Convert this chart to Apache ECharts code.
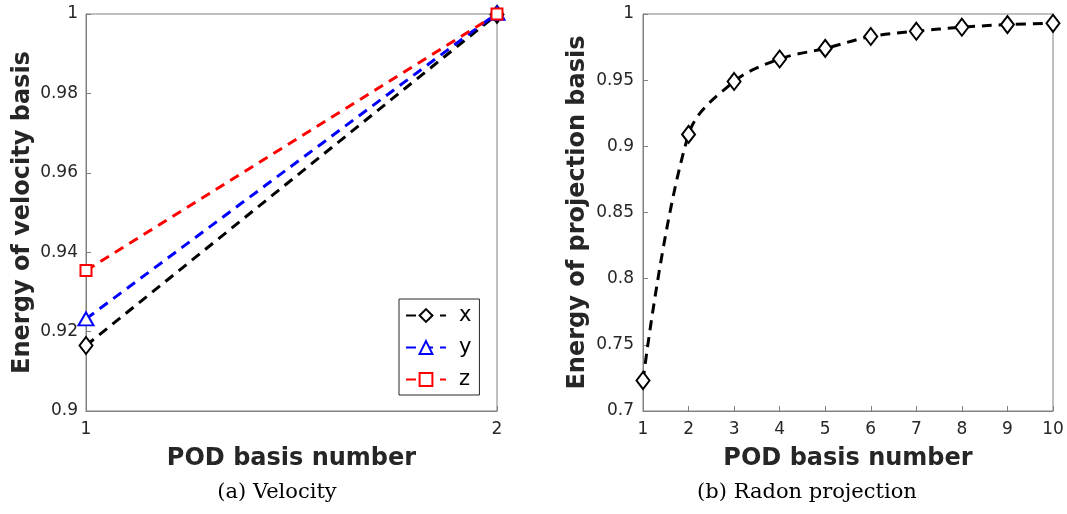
<!DOCTYPE html>
<html><head><meta charset="utf-8">
<script src="https://cdn.jsdelivr.net/npm/echarts@6/dist/echarts.min.js"></script>
<style>html,body{margin:0;padding:0;background:#fff}#c{width:1067px;height:514px}</style>
</head><body><div id="c"></div>
<script>
const velBasis = [1, 2];
const velX = [0.9165, 0.9999];
const velY = [0.9232, 1.0002];
const velZ = [0.9354, 1.0];
const radBasis = [1, 2, 3, 4, 5, 6, 7, 8, 9, 10];
const radEnergy = [0.723, 0.909, 0.949, 0.966, 0.974, 0.983, 0.987, 0.990, 0.992, 0.993];

const chart = echarts.init(document.getElementById('c'));
const axisTxt = {color:'#262626', fontSize:17, fontFamily:'DejaVu Sans'};
const nameTxt = {color:'#262626', fontSize:24, fontWeight:'bold', fontFamily:'DejaVu Sans'};
const fmt = v => String(parseFloat(v.toFixed(3)));
function pairs(xs, ys){ return xs.map((x,i)=>[x, ys[i]]); }
function ser(name, data, color, symbol, size, xi, smooth){
  return {name, type:'line', xAxisIndex:xi, yAxisIndex:xi, data, smooth: smooth||false,
    symbol, symbolSize:size, clip:false, showSymbol:true,
    lineStyle:{color, width:3, type:[10,7]},
    itemStyle:{color, borderColor:color, borderWidth:2.4}, z:3};
}
const tick = {inside:true, length:5, lineStyle:{color:'#808080'}};
const aline = {lineStyle:{color:'#808080'}};
chart.setOption({
  animation:false,
  grid:[
    {left:86, top:14, width:411, height:397, show:true, borderColor:'#808080', borderWidth:1, backgroundColor:'#fff'},
    {left:643, top:14, width:410, height:397, show:true, borderColor:'#808080', borderWidth:1, backgroundColor:'#fff'}
  ],
  xAxis:[
    {gridIndex:0, type:'value', min:1, max:2, interval:1, name:'POD basis number', nameLocation:'middle', nameGap:36, nameTextStyle:nameTxt,
     axisLine:aline, axisTick:tick, axisLabel:Object.assign({margin:10}, axisTxt), splitLine:{show:false}},
    {gridIndex:1, type:'value', min:1, max:10, interval:1, name:'POD basis number', nameLocation:'middle', nameGap:36, nameTextStyle:nameTxt,
     axisLine:aline, axisTick:tick, axisLabel:Object.assign({margin:10}, axisTxt), splitLine:{show:false}}
  ],
  yAxis:[
    {gridIndex:0, type:'value', min:0.9, max:1, interval:0.02, name:'Energy of velocity basis', nameLocation:'middle', nameGap:51, nameTextStyle:nameTxt,
     axisLine:aline, axisTick:tick, axisLabel:Object.assign({margin:8, formatter:fmt}, axisTxt), splitLine:{show:false}},
    {gridIndex:1, type:'value', min:0.7, max:1, interval:0.05, name:'Energy of projection basis', nameLocation:'middle', nameGap:53, nameTextStyle:nameTxt,
     axisLine:aline, axisTick:tick, axisLabel:Object.assign({margin:9, formatter:fmt}, axisTxt), splitLine:{show:false}}
  ],
  legend:{data:['x','y','z'], orient:'vertical', left:399, top:299, padding:[6,8,5,6], itemGap:11,
    itemWidth:40, itemHeight:16, backgroundColor:'#fff', borderColor:'#262626', borderWidth:1, borderRadius:0,
    textStyle:{fontSize:21, color:'#000', fontFamily:'DejaVu Sans', padding:[0,0,0,8]}},
  series:[
    ser('x', pairs(velBasis, velX), '#000000', 'emptyDiamond', [13,17], 0),
    ser('y', pairs(velBasis, velY), '#0000ff', 'emptyTriangle', [15,13], 0),
    ser('z', pairs(velBasis, velZ), '#ff0000', 'emptyRect', [11,11], 0),
    ser('proj', pairs(radBasis, radEnergy), '#000000', 'emptyDiamond', [13,17], 1, 0.35)
  ],
  graphic:[
    {type:'text', style:{text:'(a) Velocity', x:277, y:493, textAlign:'center', textVerticalAlign:'middle', fontSize:21, fontFamily:'DejaVu Serif', fill:'#000'}},
    {type:'text', style:{text:'(b) Radon projection', x:807, y:493, textAlign:'center', textVerticalAlign:'middle', fontSize:21, fontFamily:'DejaVu Serif', fill:'#000'}}
  ]
});
</script></body></html>
